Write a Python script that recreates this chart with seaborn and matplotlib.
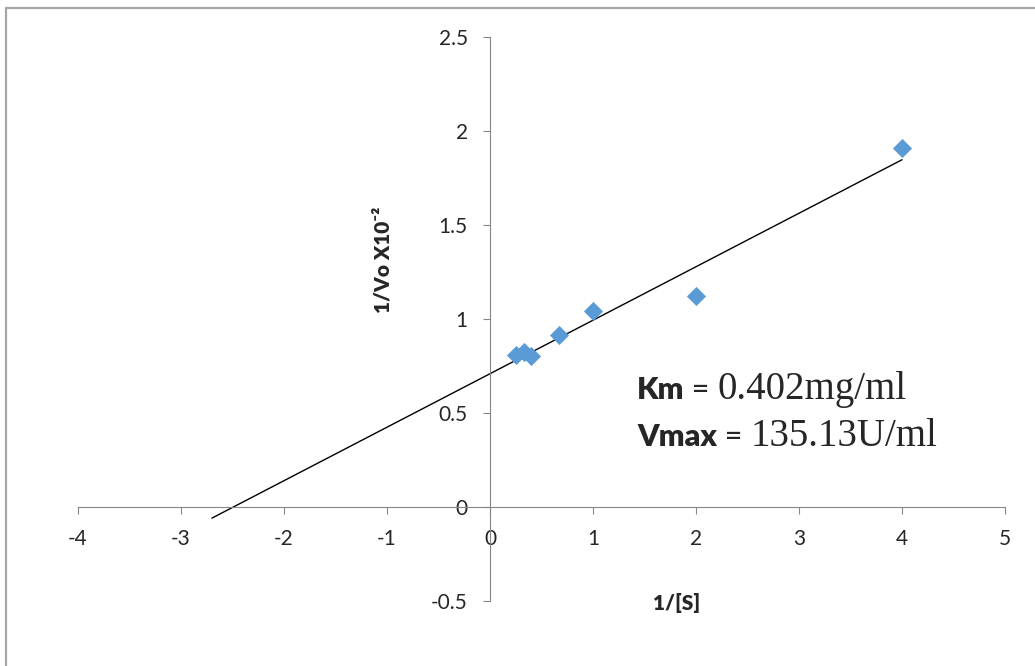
import matplotlib
matplotlib.use("Agg")
import matplotlib.pyplot as plt
import numpy as np
import pandas as pd
import seaborn as sns
from matplotlib.lines import Line2D

# Lineweaver-Burk data
inv_s = [4.0, 2.0, 1.0, 0.667, 0.4, 0.333, 0.25]
inv_v = [1.91, 1.12, 1.04, 0.915, 0.805, 0.824, 0.81]
trend_x_range = [-2.7, 4.0]
x_ticks = [-4, -3, -2, -1, 0, 1, 2, 3, 4, 5]
y_ticks = [-0.5, 0, 0.5, 1, 1.5, 2, 2.5]
y_tick_labels = ["-0.5", "0", "0.5", "1", "1.5", "2", "2.5"]

SANS = ["Lato", "DejaVu Sans"]
SERIF = ["Liberation Serif", "DejaVu Serif"]
AXIS_GREY = "#868686"
MARKER_BLUE = "#5B9BD5"

sns.set_theme(style="white")
plt.rcParams["font.family"] = SANS

fig = plt.figure(figsize=(10.35, 6.66), dpi=100)
ax = fig.add_axes([78 / 1035, 1 - 601 / 666, (1005 - 78) / 1035, (601 - 37) / 666])

df = pd.DataFrame({"inv_s": inv_s, "inv_v": inv_v})

# linear trendline, extended backwards like the spreadsheet version
slope, intercept = np.polyfit(df["inv_s"], df["inv_v"], 1)
trend = pd.DataFrame({"x": trend_x_range})
trend["y"] = slope * trend["x"] + intercept
sns.lineplot(data=trend, x="x", y="y", ax=ax, color="black", linewidth=1.0)

sns.scatterplot(data=df, x="inv_s", y="inv_v", ax=ax, marker="D", s=95,
                color=MARKER_BLUE, linewidth=0, zorder=3)

ax.set_xlim(-4, 5)
ax.set_ylim(-0.5, 2.5)
ax.set_xticks(x_ticks)
ax.set_xticklabels([str(t) for t in x_ticks])
ax.set_yticks(y_ticks)
ax.set_yticklabels(y_tick_labels)

for side in ["top", "right"]:
    ax.spines[side].set_visible(False)
ax.spines["left"].set_position(("data", 0))
ax.spines["bottom"].set_position(("data", 0))
for side in ["left", "bottom"]:
    ax.spines[side].set_color(AXIS_GREY)
    ax.spines[side].set_linewidth(0.8)

ax.tick_params(axis="x", direction="out", length=5, width=0.8, color=AXIS_GREY,
               pad=11, labelsize=15, bottom=True)
ax.tick_params(axis="y", direction="out", length=5, width=0.8, color=AXIS_GREY,
               pad=11, labelsize=15, left=True)
ax.set_xlabel("")
ax.set_ylabel("")
ax.grid(False)

# axis titles
fig.text(383 / 1035, 1 - 260 / 666, "1/Vo X10⁻²", rotation=90, ha="center", va="center",
         fontsize=15, fontweight="heavy", family=SANS)
fig.text(677 / 1035, 1 - 603 / 666, "1/[S]", ha="center", va="center",
         fontsize=15, fontweight="heavy", family=SANS)


# kinetic constants, mixed fonts on one baseline
def mixed_line(y_px, label, value):
    base = 666 - y_px
    t1 = fig.text(637 / 1035, base / 666, label, fontsize=22, fontweight="heavy",
                  family=SANS, va="baseline")
    t2 = ax.annotate(" = ", xy=(1, base), xycoords=(t1, "figure pixels"),
                     fontsize=22, family=SANS, va="baseline")
    ax.annotate(value, xy=(1, base), xycoords=(t2, "figure pixels"),
                fontsize=28, family=SERIF, va="baseline")


mixed_line(399, "Km", "0.402mg/ml")
mixed_line(446, "Vmax", "135.13U/ml")

# chart frame (only top and left edges are visible)
fig.add_artist(Line2D([6 / 1035, 1], [1 - 8 / 666, 1 - 8 / 666], transform=fig.transFigure,
                      color="#a6a6a6", linewidth=1.6))
fig.add_artist(Line2D([6 / 1035, 6 / 1035], [0, 1 - 8 / 666], transform=fig.transFigure,
                      color="#a6a6a6", linewidth=1.6))

fig.savefig("out.png", dpi=100, facecolor="white")
